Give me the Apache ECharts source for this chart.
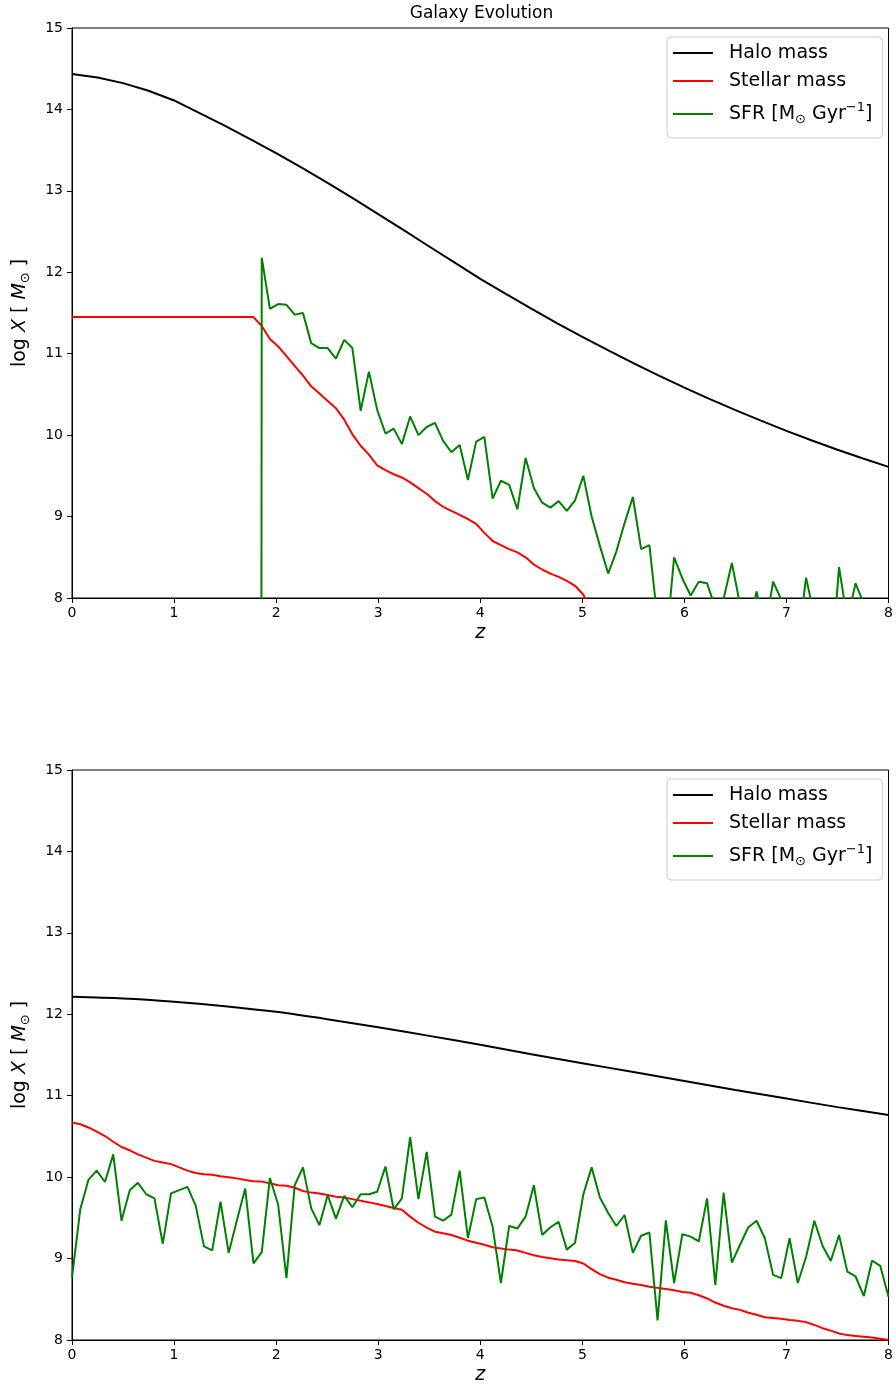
<!DOCTYPE html>
<html><head><meta charset="utf-8">
<script src="https://cdn.jsdelivr.net/npm/echarts@6/dist/echarts.min.js"></script>
<style>html,body{margin:0;padding:0;background:#fff}#c{width:896px;height:1389px}</style>
</head><body><div id="c"></div>
<script>
// redshift sampling grid (100 samples from 0 to 8)
const zGrid = [0,0.081,0.162,0.242,0.323,0.404,0.485,0.566,0.646,0.727,0.808,0.889,0.970,1.051,1.131,1.212,1.293,1.374,1.455,1.535,1.616,1.697,1.778,1.859,1.939,2.020,2.101,2.182,2.263,2.343,2.424,2.505,2.586,2.667,2.747,2.828,2.909,2.990,3.071,3.152,3.232,3.313,3.394,3.475,3.556,3.636,3.717,3.798,3.879,3.960,4.040,4.121,4.202,4.283,4.364,4.444,4.525,4.606,4.687,4.768,4.848,4.929,5.010,5.091,5.172,5.253,5.333,5.414,5.495,5.576,5.657,5.737,5.818,5.899,5.980,6.061,6.141,6.222,6.303,6.384,6.465,6.545,6.626,6.707,6.788,6.869,6.949,7.030,7.111,7.192,7.273,7.354,7.434,7.515,7.596,7.677,7.758,7.838,7.919,8.0];

// ---- top panel ----
const haloTopZ = [0,0.25,0.5,0.75,1,1.25,1.5,1.75,2,2.25,2.5,2.75,3,3.25,3.5,3.75,4,4.25,4.5,4.75,5,5.25,5.5,5.75,6,6.25,6.5,6.75,7,7.25,7.5,7.75,8];
const haloTop = [14.435,14.392,14.323,14.229,14.11,13.954,13.798,13.633,13.463,13.285,13.10,12.91,12.715,12.517,12.317,12.118,11.92,11.735,11.553,11.377,11.207,11.043,10.885,10.731,10.584,10.443,10.307,10.178,10.053,9.934,9.821,9.714,9.61];
const stellarTop = [11.45,11.45,11.45,11.45,11.45,11.45,11.45,11.45,11.45,11.45,11.45,11.45,11.45,11.45,11.45,11.45,11.45,11.45,11.45,11.45,11.45,11.45,11.45,
  11.34,11.18,11.09,10.97,10.85,10.73,10.60,10.51,10.42,10.33,10.19,10.01,9.87,9.76,9.63,9.57,9.52,9.48,9.42,9.35,9.28,9.19,9.12,9.07,9.02,8.97,8.91,8.80,8.70,8.65,8.60,8.56,8.50,8.41,8.35,8.30,8.26,8.21,8.15,8.04,7.85,7.75];
const sfrTop = [null,null,null,null,null,null,null,null,null,null,null,null,null,null,null,null,null,null,null,null,null,null,
  -100,12.18,11.55,11.61,11.60,11.48,11.50,11.13,11.07,11.07,10.94,11.17,11.07,10.30,10.78,10.31,10.02,10.08,9.89,10.23,10.00,10.10,10.15,9.93,9.79,9.88,9.45,9.92,9.98,9.22,9.44,9.39,9.09,9.72,9.35,9.17,9.11,9.19,9.07,9.20,9.50,9.00,8.64,8.30,8.57,8.92,9.24,8.60,8.65,7.73,7.39,8.50,8.24,8.03,8.20,8.18,7.88,7.99,8.43,7.92,7.61,8.08,7.6,8.20,7.98,7.7,7.44,8.25,7.78,7.4,7.07,8.38,7.73,8.18,7.93,7.6,7.5,7.7];

// ---- bottom panel ----
const haloBotZ = [0,0.5,1,1.5,2,2.5,3,3.5,4,4.5,5,5.5,6,6.5,7,7.5,8];
const haloBot = [12.216,12.195,12.155,12.10,12.03,11.94,11.84,11.735,11.625,11.51,11.40,11.29,11.18,11.07,10.965,10.86,10.763];
const stellarBot = [10.67,10.65,10.61,10.56,10.505,10.435,10.37,10.33,10.28,10.24,10.20,10.18,10.16,10.12,10.08,10.05,10.035,10.03,10.01,10.00,9.985,9.965,9.95,9.945,9.925,9.90,9.895,9.87,9.83,9.81,9.80,9.78,9.76,9.75,9.73,9.71,9.69,9.67,9.645,9.62,9.60,9.515,9.44,9.38,9.33,9.31,9.29,9.255,9.22,9.195,9.17,9.14,9.125,9.11,9.10,9.07,9.04,9.02,9.005,8.99,8.98,8.97,8.94,8.87,8.81,8.765,8.74,8.71,8.69,8.675,8.655,8.64,8.625,8.61,8.59,8.58,8.55,8.51,8.46,8.42,8.39,8.37,8.335,8.31,8.28,8.27,8.26,8.245,8.235,8.22,8.185,8.145,8.115,8.08,8.06,8.05,8.04,8.03,8.015,8.00];
const sfrBot = [8.77,9.605,9.97,10.08,9.94,10.28,9.465,9.84,9.93,9.79,9.74,9.18,9.80,9.84,9.88,9.65,9.15,9.10,9.70,9.07,9.47,9.86,8.94,9.08,9.99,9.66,8.76,9.90,10.12,9.62,9.41,9.78,9.49,9.77,9.63,9.79,9.79,9.82,10.13,9.605,9.74,10.49,9.73,10.31,9.515,9.465,9.54,10.08,9.25,9.73,9.75,9.39,8.70,9.40,9.37,9.515,9.90,9.29,9.385,9.45,9.11,9.195,9.79,10.12,9.75,9.56,9.40,9.535,9.07,9.28,9.32,8.24,9.47,8.70,9.30,9.27,9.21,9.74,8.675,9.81,8.95,9.17,9.385,9.465,9.25,8.80,8.76,9.25,8.70,9.02,9.465,9.155,8.97,9.29,8.84,8.78,8.54,8.975,8.91,8.53];

const xTicks = ['0','1','2','3','4','5','6','7','8'];
const yTicks = ['8','9','10','11','12','13','14','15'];
const seriesNames = ['Halo mass','Stellar mass','SFR'];

const FONT = "'DejaVu Sans'";
function pairs(xs, ys){ return ys.map((y,i)=>[xs[i], y]); }

function xAx(gi){
  return {type:'value', gridIndex:gi, min:0, max:8, interval:1,
    name:'z', nameLocation:'middle', nameGap:26,
    nameTextStyle:{fontFamily:FONT, fontStyle:'italic', fontSize:19, color:'#000'},
    axisLine:{show:true, onZero:false, lineStyle:{color:'#000', width:1}},
    axisTick:{show:true, inside:false, length:5, lineStyle:{color:'#000', width:1}},
    axisLabel:{fontFamily:FONT, fontSize:14, color:'#000', margin:8,
      formatter:(v)=>xTicks[Math.round(v)]},
    splitLine:{show:false}};
}
function yAx(gi){
  return {type:'value', gridIndex:gi, min:8, max:15, interval:1,
    name:'{n|log }{i|X}{n| [ }{i|M}{s|⊙}{n| ]}', nameLocation:'middle', nameGap:40, nameRotate:90,
    nameTextStyle:{fontFamily:FONT, fontSize:19, color:'#000',
      rich:{n:{fontFamily:FONT, fontSize:19, color:'#000'},
            i:{fontFamily:FONT, fontSize:19, fontStyle:'italic', color:'#000'},
            s:{fontFamily:FONT, fontSize:13, color:'#000', padding:[10,0,0,0]}}},
    axisLine:{show:true, onZero:false, lineStyle:{color:'#000', width:1}},
    axisTick:{show:true, inside:false, length:5, lineStyle:{color:'#000', width:1}},
    axisLabel:{fontFamily:FONT, fontSize:14, color:'#000', margin:9,
      formatter:(v)=>yTicks[Math.round(v)-8]},
    splitLine:{show:false}};
}
function legend(top){
  return {data:seriesNames, orient:'vertical', left:667, top:top,
    icon:'rect', padding:[5,10,8,6], itemGap:6, itemWidth:40, itemHeight:2,
    backgroundColor:'rgba(255,255,255,0.8)', borderColor:'#cccccc', borderWidth:1, borderRadius:4,
    textStyle:{fontFamily:FONT, fontSize:19, color:'#000', lineHeight:22, padding:[0,0,0,11],
      rich:{n:{fontFamily:FONT, fontSize:19, color:'#000', lineHeight:32},
            sub:{fontFamily:FONT, fontSize:13, color:'#000', lineHeight:32, padding:[12,0,0,0]},
            sup:{fontFamily:FONT, fontSize:13, color:'#000', lineHeight:32, padding:[0,0,12,0]}}},
    formatter:(name)=> name==='SFR' ? '{n|SFR [M}{sub|⊙}{n| Gyr}{sup|−1}{n|]}' : name};
}
function line(name, gi, data, color, smooth){
  return {name:name, type:'line', xAxisIndex:gi, yAxisIndex:gi, data:data,
    symbol:'none', showSymbol:false, smooth:smooth||false,
    clip:true, lineStyle:{color:color, width:2}, itemStyle:{color:color},
    connectNulls:false, animation:false};
}

const chart = echarts.init(document.getElementById('c'), null, {renderer:'canvas'});
chart.setOption({
  backgroundColor:'#fff',
  animation:false,
  graphic:[{type:'text', x:481.5, y:14, style:{text:'Galaxy Evolution', font:"17px 'DejaVu Sans'", fill:'#000', textAlign:'center', textVerticalAlign:'middle'}}],
  grid:[
    {left:72, top:28, width:819, height:570, show:true, borderColor:'#000', borderWidth:1, backgroundColor:'transparent'},
    {left:72, top:770, width:819, height:570, show:true, borderColor:'#000', borderWidth:1, backgroundColor:'transparent'}
  ],
  xAxis:[xAx(0), xAx(1)],
  yAxis:[yAx(0), yAx(1)],
  legend:[legend(37), legend(779)],
  series:[
    line('Halo mass', 0, pairs(haloTopZ, haloTop), '#000000', false),
    line('Stellar mass', 0, pairs(zGrid, stellarTop), '#ff0000'),
    line('SFR', 0, pairs(zGrid, sfrTop), '#008000'),
    line('Halo mass', 1, pairs(haloBotZ, haloBot), '#000000', 0.3),
    line('Stellar mass', 1, pairs(zGrid, stellarBot), '#ff0000'),
    line('SFR', 1, pairs(zGrid, sfrBot), '#008000')
  ]
});
</script></body></html>
